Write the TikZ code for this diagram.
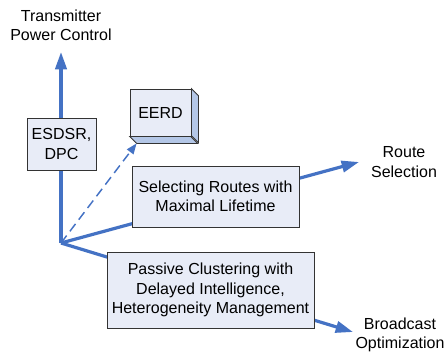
\documentclass[tikz,border=0pt]{standalone}
\usepackage{fontspec}
\setmainfont{Liberation Sans}
\usetikzlibrary{arrows.meta}

\definecolor{axisblue}{RGB}{68,114,196}
\definecolor{boxfill}{RGB}{232,236,247}
\definecolor{bevelfill}{RGB}{180,199,231}

\tikzset{every picture/.style={line width=0.75pt}}
\tikzset{
  axis/.style={draw=axisblue, line width=2.4pt, -{Triangle[length=13pt,width=8.5pt]}},
  hint/.style={draw=axisblue, line width=1.1pt, dash pattern=on 7pt off 4pt, -{Triangle[length=8pt,width=6pt]}},
  topic/.style={draw=black!80, fill=boxfill, line width=0.6pt, inner sep=0pt, align=center, font=\fontsize{12}{14.5}\selectfont},
  label/.style={inner sep=0pt, align=center, font=\fontsize{12}{14.5}\selectfont}
}

\begin{document}
\begin{tikzpicture}[x=0.75pt,y=0.75pt,yscale=-1,xscale=1]
\path[use as bounding box] (0,0) rectangle (445,354);

% Origin and arrow ends
\coordinate (o) at (61,243);
\coordinate (powertip) at (61,52);
\coordinate (routetip) at (359,162);
\coordinate (castip) at (353,332);

% Axes
\draw [axis] (o) -- (powertip);
\draw [axis] (o) -- (routetip);
\draw [axis] (o) -- (castip);

% Boxes
\node [topic, minimum width=51.75pt, minimum height=39pt] (esdsr) at (61.5,144) {ESDSR,\\DPC};
\node [topic, minimum width=125.25pt, minimum height=45.75pt] (routes) at (215.5,196.5) {Selecting Routes with\\Maximal Lifetime};
\node [topic, minimum width=155.25pt, minimum height=57pt] (passive) at (210.5,290) {Passive Clustering with\\Delayed Intelligence,\\Heterogeneity Management};

% 3D box
\node [topic, minimum width=45.75pt, minimum height=35.25pt] (eerd) at (160.5,112.5) {EERD};
\draw [draw=black!80, fill=bevelfill, line width=0.6pt] (eerd.north east) -- ++(7,7) -- ++(0,47) -- ++(-7,-7) -- cycle;
\draw [draw=black!80, fill=bevelfill, line width=0.6pt] (eerd.south west) -- ++(7,7) -- ++(61,0) -- ++(-7,-7) -- cycle;
\coordinate (eerdcorner) at ([shift={(7,7)}]eerd.south west);
\draw [hint] (o) -- (eerdcorner);

% Text Node
\node [label] (power) at (61,25) {Transmitter\\Power Control};
% Text Node
\node [label] (route) at (404,162) {Route\\Selection};
% Text Node
\node [label] (cast) at (400,335) {Broadcast\\Optimization};

\end{tikzpicture}
\end{document}
